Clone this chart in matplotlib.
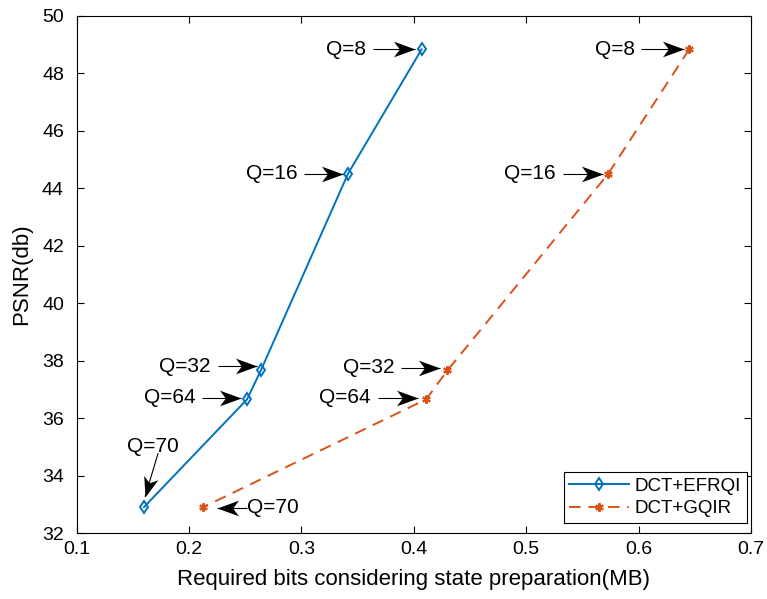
import numpy as np
import matplotlib.pyplot as plt
from matplotlib.path import Path

plt.rcParams["font.family"] = ["Liberation Sans", "DejaVu Sans"]

# data
quality = ["Q=8", "Q=16", "Q=32", "Q=64", "Q=70"]
psnr = [48.83, 44.5, 37.66, 36.65, 32.9]
bits_efrqi = [0.407, 0.3415, 0.264, 0.2517, 0.160]
bits_gqir = [0.645, 0.573, 0.430, 0.411, 0.2128]

blue = "#0072BD"
orange = "#D95319"

fig = plt.figure(figsize=(7.67, 5.99), dpi=100)
ax = fig.add_axes([76.5 / 767, 1 - 533 / 599, (751 - 76.5) / 767, (533 - 15.7) / 599])

ax.plot(bits_efrqi, psnr, "-", color=blue, lw=1.4, marker="d", ms=6.5,
        mfc="none", mec=blue, mew=1.4, label="DCT+EFRQI")
ax.plot(bits_gqir, psnr, "--", color=orange, lw=1.4, dashes=(6, 4),
        marker=(6, 2, 0), ms=6, mec=orange, mew=1.6, label="DCT+GQIR")

ax.set_xlim(0.1, 0.7)
ax.set_ylim(32, 50)
ax.set_xticks(np.arange(0.1, 0.71, 0.1))
ax.set_yticks(np.arange(32, 51, 2))
ax.set_xticklabels(["0.1", "0.2", "0.3", "0.4", "0.5", "0.6", "0.7"])
ax.tick_params(direction="in", top=True, right=True, labelsize=14, length=5,
               width=0.8)
ax.tick_params(axis="x", pad=6)
ax.tick_params(axis="y", pad=9)
for s in ax.spines.values():
    s.set_linewidth(0.8)
ax.set_xlabel("Required bits considering state preparation(MB)", fontsize=16, labelpad=8)
ax.set_ylabel("PSNR(db)", fontsize=16, labelpad=7)


def head_marker(angle):
    # swept-back arrow head, tip at the origin, pointing along angle (deg)
    v = np.array([[0, 0], [-22, 8], [-16, 0], [-22, -8], [0, 0]], float)
    a = np.deg2rad(angle)
    rot = np.array([[np.cos(a), -np.sin(a)], [np.sin(a), np.cos(a)]])
    v = v @ rot.T
    codes = [Path.MOVETO, Path.LINETO, Path.LINETO, Path.LINETO, Path.CLOSEPOLY]
    return Path(v, codes)


def draw_arrow(x0, y0, x1, y1):
    p0 = ax.transData.transform((x0, y0))
    p1 = ax.transData.transform((x1, y1))
    ang = np.degrees(np.arctan2(p1[1] - p0[1], p1[0] - p0[0]))
    ax.plot([x0, x1], [y0, y1], color="k", lw=0.8, solid_capstyle="butt")
    ax.plot([x1], [y1], linestyle="none", marker=head_marker(ang), ms=31,
            color="k", mew=0)


# horizontal arrows from the left: (label index, tail x, tip x, y)
left_arrows = [
    (0, 0.3638, 0.4015, 48.83),
    (1, 0.3025, 0.3375, 44.5),
    (2, 0.2255, 0.2605, 37.8),
    (3, 0.212, 0.2465, 36.7),
    (0, 0.6025, 0.6405, 48.83),
    (1, 0.5325, 0.568, 44.5),
    (2, 0.389, 0.4235, 37.75),
    (3, 0.368, 0.4035, 36.7),
]
for i, x0, x1, y in left_arrows:
    draw_arrow(x0, y, x1, y)
    ax.text(x0 - 0.006, y, quality[i], ha="right", va="center", fontsize=15)

# Q=70, blue: label above, arrow pointing down
draw_arrow(0.1726, 34.78, 0.161, 33.26)
ax.text(0.168, 35.0, quality[4], ha="center", va="center", fontsize=15)

# Q=70, orange: label on the right, arrow pointing left
draw_arrow(0.2516, 32.87, 0.2247, 32.87)
ax.text(0.252, 32.87, quality[4], ha="left", va="center", fontsize=15)

leg = ax.legend(loc="lower right", bbox_to_anchor=(0.994, 0.0193), fontsize=13.5,
                frameon=True, fancybox=False, edgecolor="k", framealpha=1,
                handlelength=3.2, borderpad=0.3, labelspacing=0.3,
                handletextpad=0.3, borderaxespad=0)
leg.get_frame().set_linewidth(0.8)

fig.savefig("out.png", dpi=100)
